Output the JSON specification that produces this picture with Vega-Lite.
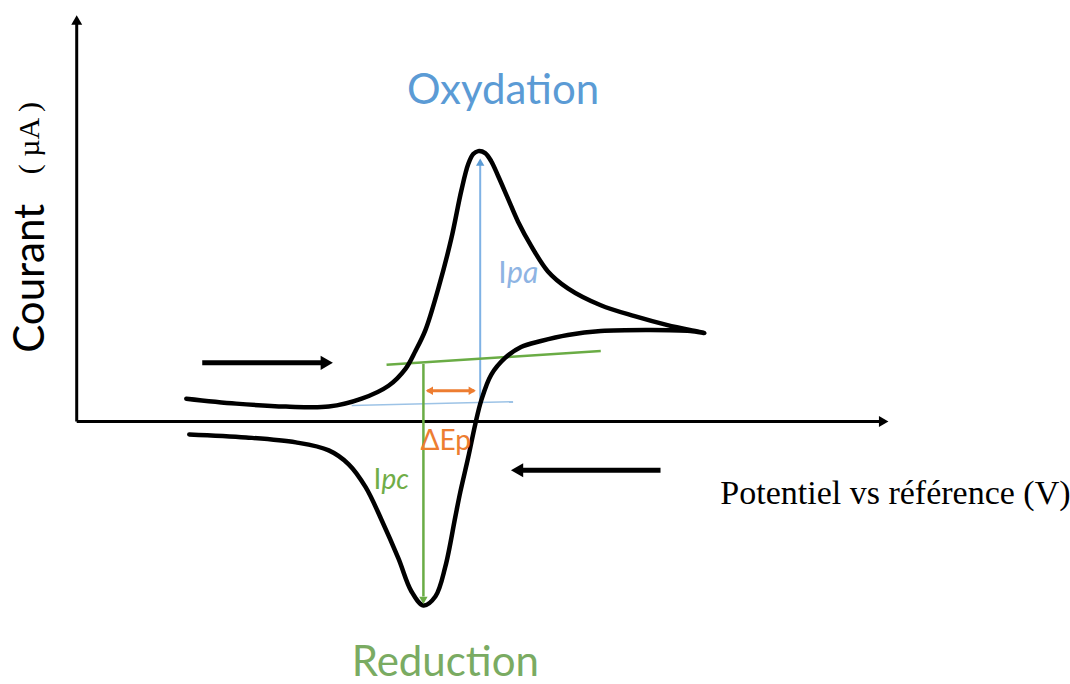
{
  "$schema": "https://vega.github.io/schema/vega-lite/v6.json",
  "autosize": {"type": "fit", "contains": "padding"},
  "width": 1070,
  "height": 684,
  "padding": 0,
  "background": "white",
  "config": {"view": {"stroke": null}},
  "datasets": {
    "cv": [
      {"i": 1, "E": 110, "I": 23}, {"i": 2, "E": 160, "I": 18}, {"i": 3, "E": 210, "I": 15},
      {"i": 4, "E": 253, "I": 15}, {"i": 5, "E": 286, "I": 23}, {"i": 6, "E": 313, "I": 36},
      {"i": 7, "E": 330, "I": 53}, {"i": 8, "E": 340, "I": 71}, {"i": 9, "E": 350, "I": 92},
      {"i": 10, "E": 363, "I": 134}, {"i": 11, "E": 376, "I": 184}, {"i": 12, "E": 386, "I": 232},
      {"i": 13, "E": 393, "I": 259}, {"i": 14, "E": 398, "I": 269}, {"i": 15, "E": 403, "I": 272},
      {"i": 16, "E": 410, "I": 270}, {"i": 17, "E": 416, "I": 262}, {"i": 18, "E": 423, "I": 247},
      {"i": 19, "E": 433, "I": 224}, {"i": 20, "E": 443, "I": 201}, {"i": 21, "E": 456, "I": 177},
      {"i": 22, "E": 473, "I": 151}, {"i": 23, "E": 493, "I": 134}, {"i": 24, "E": 526, "I": 117},
      {"i": 25, "E": 560, "I": 106}, {"i": 26, "E": 593, "I": 97}, {"i": 27, "E": 630, "I": 89},
      {"i": 28, "E": 616, "I": 91}, {"i": 29, "E": 576, "I": 92}, {"i": 30, "E": 526, "I": 91},
      {"i": 31, "E": 493, "I": 87}, {"i": 32, "E": 466, "I": 81}, {"i": 33, "E": 446, "I": 75},
      {"i": 34, "E": 430, "I": 64}, {"i": 35, "E": 416, "I": 47}, {"i": 36, "E": 406, "I": 21},
      {"i": 37, "E": 400, "I": -3}, {"i": 38, "E": 393, "I": -36}, {"i": 39, "E": 385, "I": -71},
      {"i": 40, "E": 380, "I": -96}, {"i": 41, "E": 370, "I": -146}, {"i": 42, "E": 360, "I": -176},
      {"i": 43, "E": 348, "I": -185}, {"i": 44, "E": 336, "I": -171}, {"i": 45, "E": 323, "I": -138},
      {"i": 46, "E": 306, "I": -99}, {"i": 47, "E": 290, "I": -66}, {"i": 48, "E": 273, "I": -43},
      {"i": 49, "E": 253, "I": -29}, {"i": 50, "E": 220, "I": -21}, {"i": 51, "E": 170, "I": -16},
      {"i": 52, "E": 113, "I": -13}
    ],
    "segs": [
      {"name": "xaxis", "E": 0, "I": 0, "E2": 806, "I2": 0},
      {"name": "yaxis", "E": 0, "I": 0, "E2": 0, "I2": 402},
      {"name": "fwd", "E": 126, "I": 59, "E2": 249, "I2": 59},
      {"name": "ret", "E": 586, "I": -49, "E2": 443, "I2": -49},
      {"name": "greenbase", "E": 311, "I": 57, "E2": 526, "I2": 71},
      {"name": "greenv", "E": 348, "I": 58, "E2": 348, "I2": -176},
      {"name": "bluebase", "E": 276, "I": 16, "E2": 438, "I2": 20},
      {"name": "bluev", "E": 405, "I": 21, "E2": 405, "I2": 260},
      {"name": "orange", "E": 352, "I": 31, "E2": 399, "I2": 31}
    ],
    "heads": [
      {"name": "xaxis", "E": 810, "I": 0},
      {"name": "yaxis", "E": 0, "I": 404},
      {"name": "fwd", "E": 251, "I": 59},
      {"name": "ret", "E": 442, "I": -49},
      {"name": "greenv", "E": 348, "I": -180},
      {"name": "bluev", "E": 405, "I": 261},
      {"name": "orangeL", "E": 354, "I": 31},
      {"name": "orangeR", "E": 397, "I": 31}
    ],
    "labels": [
      {"key": "ox", "text": "Oxydation", "E": 428, "I": 319},
      {"key": "red", "text": "Reduction", "E": 370, "I": -256},
      {"key": "ipaI", "text": "I", "E": 423, "I": 139},
      {"key": "ipa", "text": "pa", "E": 432, "I": 139},
      {"key": "dep", "text": "ΔEp", "E": 345, "I": -29},
      {"key": "ipcI", "text": "I", "E": 298, "I": -68},
      {"key": "ipc", "text": "pc", "E": 306, "I": -68},
      {"key": "courant", "text": "Courant", "E": -46, "I": 144},
      {"key": "unit", "text": "( µA )", "E": -47, "I": 285},
      {"key": "xlab", "text": "Potentiel vs référence (V)", "E": 646, "I": -83}
    ]
  },
  "layer": [
    {
      "data": {"name": "segs"},
      "transform": [{"filter": "datum.name === 'xaxis' || datum.name === 'yaxis'"}],
      "mark": {"type": "rule", "color": "black", "strokeWidth": 3},
      "encoding": {
        "x": {"field": "E", "type": "quantitative", "scale": {"domain": [-77, 993], "nice": false, "zero": false}, "axis": null},
        "y": {"field": "I", "type": "quantitative", "scale": {"domain": [-260, 424], "nice": false, "zero": false}, "axis": null},
        "x2": {"field": "E2"},
        "y2": {"field": "I2"}
      }
    },
    {
      "data": {"name": "segs"},
      "transform": [{"filter": "datum.name === 'fwd' || datum.name === 'ret'"}],
      "mark": {"type": "rule", "color": "black", "strokeWidth": 5},
      "encoding": {
        "x": {"field": "E", "type": "quantitative"},
        "y": {"field": "I", "type": "quantitative"},
        "x2": {"field": "E2"},
        "y2": {"field": "I2"}
      }
    },
    {
      "data": {"name": "segs"},
      "transform": [{"filter": "datum.name === 'bluebase'"}],
      "mark": {"type": "rule", "color": "#9dc3e6", "strokeWidth": 1.5},
      "encoding": {
        "x": {"field": "E", "type": "quantitative"},
        "y": {"field": "I", "type": "quantitative"},
        "x2": {"field": "E2"},
        "y2": {"field": "I2"}
      }
    },
    {
      "data": {"name": "segs"},
      "transform": [{"filter": "datum.name === 'bluev'"}],
      "mark": {"type": "rule", "color": "#7fb2e5", "strokeWidth": 2},
      "encoding": {
        "x": {"field": "E", "type": "quantitative"},
        "y": {"field": "I", "type": "quantitative"},
        "x2": {"field": "E2"},
        "y2": {"field": "I2"}
      }
    },
    {
      "data": {"name": "segs"},
      "transform": [{"filter": "datum.name === 'greenbase' || datum.name === 'greenv'"}],
      "mark": {"type": "rule", "color": "#6aac45", "strokeWidth": 2.5},
      "encoding": {
        "x": {"field": "E", "type": "quantitative"},
        "y": {"field": "I", "type": "quantitative"},
        "x2": {"field": "E2"},
        "y2": {"field": "I2"}
      }
    },
    {
      "data": {"name": "segs"},
      "transform": [{"filter": "datum.name === 'orange'"}],
      "mark": {"type": "rule", "color": "#ed7d31", "strokeWidth": 3},
      "encoding": {
        "x": {"field": "E", "type": "quantitative"},
        "y": {"field": "I", "type": "quantitative"},
        "x2": {"field": "E2"},
        "y2": {"field": "I2"}
      }
    },
    {
      "data": {"name": "cv"},
      "mark": {"type": "line", "color": "black", "strokeWidth": 4.5, "interpolate": "catmull-rom", "strokeJoin": "round", "strokeCap": "round"},
      "encoding": {
        "x": {"field": "E", "type": "quantitative"},
        "y": {"field": "I", "type": "quantitative"},
        "order": {"field": "i", "type": "quantitative"}
      }
    },
    {
      "data": {"name": "heads"},
      "transform": [{"filter": "datum.name === 'xaxis'"}],
      "mark": {"type": "point", "shape": "triangle-right", "filled": true, "color": "black", "opacity": 1, "size": 120},
      "encoding": {"x": {"field": "E", "type": "quantitative"}, "y": {"field": "I", "type": "quantitative"}}
    },
    {
      "data": {"name": "heads"},
      "transform": [{"filter": "datum.name === 'yaxis'"}],
      "mark": {"type": "point", "shape": "triangle-up", "filled": true, "color": "black", "opacity": 1, "size": 120},
      "encoding": {"x": {"field": "E", "type": "quantitative"}, "y": {"field": "I", "type": "quantitative"}}
    },
    {
      "data": {"name": "heads"},
      "transform": [{"filter": "datum.name === 'fwd'"}],
      "mark": {"type": "point", "shape": "triangle-right", "filled": true, "color": "black", "opacity": 1, "size": 200},
      "encoding": {"x": {"field": "E", "type": "quantitative"}, "y": {"field": "I", "type": "quantitative"}}
    },
    {
      "data": {"name": "heads"},
      "transform": [{"filter": "datum.name === 'ret'"}],
      "mark": {"type": "point", "shape": "triangle-left", "filled": true, "color": "black", "opacity": 1, "size": 200},
      "encoding": {"x": {"field": "E", "type": "quantitative"}, "y": {"field": "I", "type": "quantitative"}}
    },
    {
      "data": {"name": "heads"},
      "transform": [{"filter": "datum.name === 'greenv'"}],
      "mark": {"type": "point", "shape": "triangle-down", "filled": true, "color": "#6aac45", "opacity": 1, "size": 70},
      "encoding": {"x": {"field": "E", "type": "quantitative"}, "y": {"field": "I", "type": "quantitative"}}
    },
    {
      "data": {"name": "heads"},
      "transform": [{"filter": "datum.name === 'bluev'"}],
      "mark": {"type": "point", "shape": "triangle-up", "filled": true, "color": "#5b9bd5", "opacity": 1, "size": 70},
      "encoding": {"x": {"field": "E", "type": "quantitative"}, "y": {"field": "I", "type": "quantitative"}}
    },
    {
      "data": {"name": "heads"},
      "transform": [{"filter": "datum.name === 'orangeL'"}],
      "mark": {"type": "point", "shape": "triangle-left", "filled": true, "color": "#ed7d31", "opacity": 1, "size": 70},
      "encoding": {"x": {"field": "E", "type": "quantitative"}, "y": {"field": "I", "type": "quantitative"}}
    },
    {
      "data": {"name": "heads"},
      "transform": [{"filter": "datum.name === 'orangeR'"}],
      "mark": {"type": "point", "shape": "triangle-right", "filled": true, "color": "#ed7d31", "opacity": 1, "size": 70},
      "encoding": {"x": {"field": "E", "type": "quantitative"}, "y": {"field": "I", "type": "quantitative"}}
    },
    {
      "data": {"name": "labels"},
      "transform": [{"filter": "datum.key === 'ox'"}],
      "mark": {"type": "text", "font": "Lato", "fontSize": 42, "color": "#5b9bd5", "align": "center", "baseline": "alphabetic"},
      "encoding": {"x": {"field": "E", "type": "quantitative"}, "y": {"field": "I", "type": "quantitative"}, "text": {"field": "text"}}
    },
    {
      "data": {"name": "labels"},
      "transform": [{"filter": "datum.key === 'red'"}],
      "mark": {"type": "text", "font": "Lato", "fontSize": 42, "color": "#7aab62", "align": "center", "baseline": "alphabetic"},
      "encoding": {"x": {"field": "E", "type": "quantitative"}, "y": {"field": "I", "type": "quantitative"}, "text": {"field": "text"}}
    },
    {
      "data": {"name": "labels"},
      "transform": [{"filter": "datum.key === 'ipaI'"}],
      "mark": {"type": "text", "font": "Lato", "fontSize": 30, "color": "#8eb4e3", "align": "left", "baseline": "alphabetic"},
      "encoding": {"x": {"field": "E", "type": "quantitative"}, "y": {"field": "I", "type": "quantitative"}, "text": {"field": "text"}}
    },
    {
      "data": {"name": "labels"},
      "transform": [{"filter": "datum.key === 'ipa'"}],
      "mark": {"type": "text", "font": "Lato", "fontSize": 30, "fontStyle": "italic", "color": "#8eb4e3", "align": "left", "baseline": "alphabetic"},
      "encoding": {"x": {"field": "E", "type": "quantitative"}, "y": {"field": "I", "type": "quantitative"}, "text": {"field": "text"}}
    },
    {
      "data": {"name": "labels"},
      "transform": [{"filter": "datum.key === 'dep'"}],
      "mark": {"type": "text", "font": "Lato", "fontSize": 28, "color": "#ed7d31", "align": "left", "baseline": "alphabetic"},
      "encoding": {"x": {"field": "E", "type": "quantitative"}, "y": {"field": "I", "type": "quantitative"}, "text": {"field": "text"}}
    },
    {
      "data": {"name": "labels"},
      "transform": [{"filter": "datum.key === 'ipcI'"}],
      "mark": {"type": "text", "font": "Lato", "fontSize": 28, "color": "#70ad47", "align": "left", "baseline": "alphabetic"},
      "encoding": {"x": {"field": "E", "type": "quantitative"}, "y": {"field": "I", "type": "quantitative"}, "text": {"field": "text"}}
    },
    {
      "data": {"name": "labels"},
      "transform": [{"filter": "datum.key === 'ipc'"}],
      "mark": {"type": "text", "font": "Lato", "fontSize": 28, "fontStyle": "italic", "color": "#70ad47", "align": "left", "baseline": "alphabetic"},
      "encoding": {"x": {"field": "E", "type": "quantitative"}, "y": {"field": "I", "type": "quantitative"}, "text": {"field": "text"}}
    },
    {
      "data": {"name": "labels"},
      "transform": [{"filter": "datum.key === 'courant'"}],
      "mark": {"type": "text", "font": "Lato", "fontSize": 42, "color": "black", "align": "center", "baseline": "middle", "angle": 270},
      "encoding": {"x": {"field": "E", "type": "quantitative"}, "y": {"field": "I", "type": "quantitative"}, "text": {"field": "text"}}
    },
    {
      "data": {"name": "labels"},
      "transform": [{"filter": "datum.key === 'unit'"}],
      "mark": {"type": "text", "font": "Liberation Serif", "fontSize": 30, "color": "black", "align": "center", "baseline": "middle", "angle": 270},
      "encoding": {"x": {"field": "E", "type": "quantitative"}, "y": {"field": "I", "type": "quantitative"}, "text": {"field": "text"}}
    },
    {
      "data": {"name": "labels"},
      "transform": [{"filter": "datum.key === 'xlab'"}],
      "mark": {"type": "text", "font": "Liberation Serif", "fontSize": 34, "color": "black", "align": "left", "baseline": "alphabetic"},
      "encoding": {"x": {"field": "E", "type": "quantitative"}, "y": {"field": "I", "type": "quantitative"}, "text": {"field": "text"}}
    }
  ]
}
